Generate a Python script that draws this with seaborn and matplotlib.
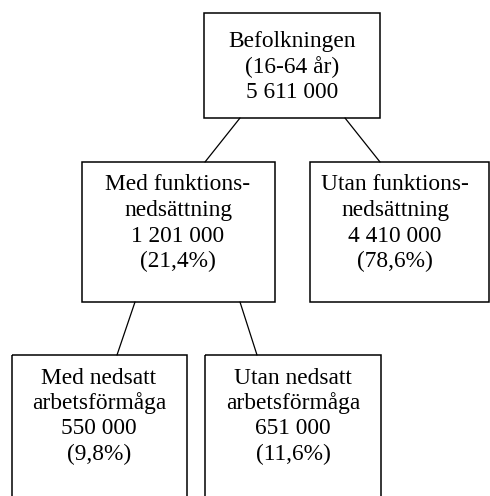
import matplotlib

matplotlib.use("Agg")
import matplotlib.pyplot as plt
import pandas as pd
import seaborn as sns
from matplotlib.patches import Rectangle

# node content
node_ids = ["root", "med_fn", "utan_fn", "med_arb", "utan_arb"]
node_titles = [
    ["Befolkningen", "(16-64 år)"],
    ["Med funktions-", "nedsättning"],
    ["Utan funktions-", "nedsättning"],
    ["Med nedsatt", "arbetsförmåga"],
    ["Utan nedsatt", "arbetsförmåga"],
]
node_counts = ["5 611 000", "1 201 000", "4 410 000", "550 000", "651 000"]
node_shares = [None, "(21,4%)", "(78,6%)", "(9,8%)", "(11,6%)"]
parents = [None, "root", "root", "med_fn", "med_fn"]

# layout in pixels: box (x0, y0, x1, y1), text centre x, first line y
box_layout = {
    "root": (204, 13, 380, 118),
    "med_fn": (82, 162, 275, 302),
    "utan_fn": (310, 162, 489, 302),
    "med_arb": (12, 355, 187, 500),
    "utan_arb": (205, 355, 381, 500),
}
text_layout = {
    "root": (292, 42),
    "med_fn": (178, 185),
    "utan_fn": (395, 185),
    "med_arb": (99, 378),
    "utan_arb": (293, 378),
}
# where connector leaves parent bottom / enters child top
edge_layout = {
    "med_fn": (240, 205),
    "utan_fn": (345, 380),
    "med_arb": (135, 117),
    "utan_arb": (240, 257),
}
line_step = 25.5


def main():
    sns.set_theme(style="white")
    plt.rcParams["font.family"] = ["Liberation Serif", "DejaVu Serif"]

    fig = plt.figure(figsize=(4.9, 4.96), dpi=100)
    ax = fig.add_axes([0, 0, 1, 1])
    ax.set_xlim(0, 490)
    ax.set_ylim(496, 0)
    ax.set_axis_off()

    rows = []
    for node, parent in zip(node_ids, parents):
        if parent is None:
            continue
        x_top, x_bot = edge_layout[node]
        rows.append({"edge": node, "x": x_top, "y": box_layout[parent][3]})
        rows.append({"edge": node, "x": x_bot, "y": box_layout[node][1]})
    edges = pd.DataFrame(rows)
    sns.lineplot(data=edges, x="x", y="y", units="edge", estimator=None,
                 sort=False, color="black", linewidth=0.9, ax=ax)

    for node, title, count, share in zip(node_ids, node_titles, node_counts, node_shares):
        x0, y0, x1, y1 = box_layout[node]
        ax.add_patch(Rectangle((x0, y0), x1 - x0, y1 - y0, fill=False,
                               edgecolor="black", linewidth=1.1))
        lines = list(title) + [count]
        if share:
            lines.append(share)
        cx, cy = text_layout[node]
        for i, txt in enumerate(lines):
            ax.text(cx, cy + i * line_step, txt, ha="center", va="center",
                    fontsize=16.8, color="black")

    ax.set_xlabel("")
    ax.set_ylabel("")
    fig.savefig("out.png", dpi=100)
    plt.close(fig)


if __name__ == "__main__":
    main()
